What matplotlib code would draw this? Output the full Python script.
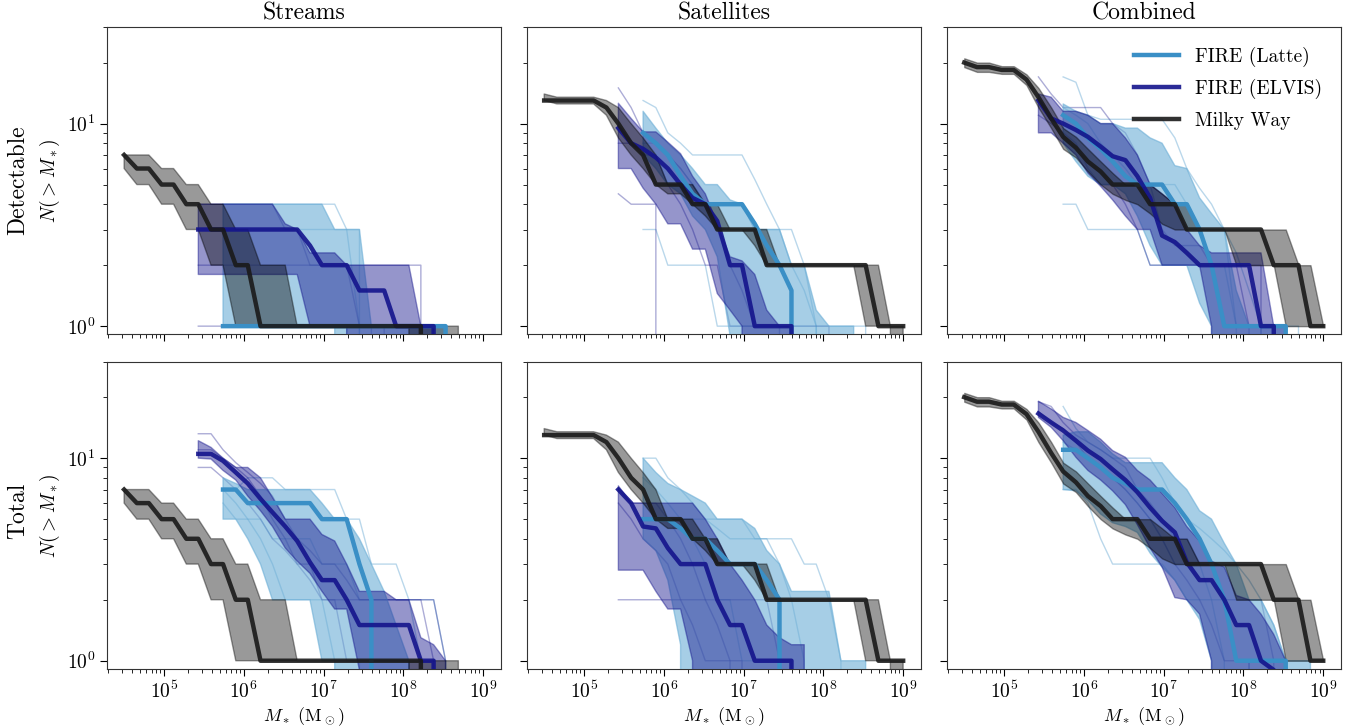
import numpy as np
import matplotlib
matplotlib.use("Agg")
import matplotlib.pyplot as plt
from matplotlib.ticker import NullFormatter, LogLocator

plt.rcParams['font.family'] = 'serif'
plt.rcParams['font.serif'] = ['cmr10']
plt.rcParams['mathtext.fontset'] = 'cm'
plt.rcParams['axes.unicode_minus'] = False
plt.rcParams['axes.formatter.use_mathtext'] = True

n = np.nan

# stellar mass grid, log10(M*/Msun)
logm = [4.50, 4.66, 4.81, 4.97, 5.12, 5.28, 5.43, 5.59, 5.74, 5.90,
        6.05, 6.21, 6.36, 6.52, 6.67, 6.83, 6.98, 7.14, 7.29, 7.45,
        7.60, 7.76, 7.91, 8.07, 8.22, 8.38, 8.53, 8.69, 8.84, 9.00]

col_titles = ['Streams', 'Satellites', 'Combined']
row_titles = ['Detectable', 'Total']

# ---- Milky Way (same in both rows)
mw_streams = [7, 6, 6, 5, 5, 4, 4, 3, 3, 2, 2] + [1]*14 + [0]*5
mw_streams_lo = [6, 5, 5, 4, 4, 3, 3, 2, 2, 1] + [1]*14 + [0]*6
mw_streams_hi = [7, 7, 7, 6, 6, 5, 5, 4, 4, 3, 3, 2, 2, 2] + [1]*14 + [0]*2

mw_sats = [13, 13, 13, 13, 13, 12, 10, 8, 7, 5, 5, 5, 4, 4, 3, 3, 3, 3,
           2, 2, 2, 2, 2, 2, 2, 2, 2, 1, 1, 1]
mw_sats_hi = [14, 13.5, 13.5, 13.5, 13.5, 13, 12, 10, 8.5, 7, 5, 5, 5, 4, 4,
              3, 3, 3, 3, 2, 2, 2, 2, 2, 2, 2, 2, 2, 1, 1]
mw_sats_lo = [13, 12.5, 12.5, 12.5, 12.5, 11, 8.5, 7, 6, 5, 4.5, 4.5, 4, 3.5,
              3, 3, 3, 2.5, 2, 2, 2, 2, 2, 2, 2, 2, 1, 1, 1, 0]

mw_comb = [20, 19, 19, 18.4, 18.4, 16.5, 13.5, 10.6, 8.6, 7.6, 6.5, 5.8, 5, 5,
           5, 4, 4, 4, 3, 3, 3, 3, 3, 3, 3, 2, 2, 2, 1, 1]
mw_comb_hi = [21, 20, 20, 19.2, 19.2, 17.5, 15, 12, 9.5, 8.6, 7.5, 6.5, 5.7, 5,
              5, 5, 4.5, 4, 4, 3, 3, 3, 3, 3, 3, 3, 3, 2, 2, 1]
mw_comb_lo = [19, 18, 18, 17.6, 17.6, 15.5, 12, 9.5, 7.5, 6.8, 5.8, 5, 4.5,
              4.2, 4, 3.6, 3.2, 3, 3, 3, 3, 3, 2, 2, 2, 2, 1, 1, 1, 1]

# ---- Streams, detectable
la_A = [n]*8 + [1]*19 + [0]*3
la_A_hi = [n]*8 + [4]*9 + [3, 3, 3] + [1]*7 + [0]*3
la_A_lo = [n]*8 + [1]*10 + [0]*12
la_A_t1 = [n]*8 + [3]*12 + [0]*10
la_A_t2 = [n]*8 + [4]*10 + [3, 1] + [0]*10
la_A_t3 = [n]*8 + [1]*11 + [0]*11
el_A = [n]*6 + [3]*9 + [2.5] + [2, 2, 2] + [1.5, 1.5, 1.5] + [1]*4 + [0]*4
el_A_hi = [n]*6 + [4]*7 + [3.2, 3] + [2.3, 2.3, 2.3] + [2]*6 + [1, 1] + [0]*4
el_A_lo = [n]*6 + [1.8]*9 + [1]*4 + [0]*11
el_A_t1 = [n]*6 + [2]*19 + [0]*5
el_A_t2 = [n]*6 + [1]*15 + [0]*9
el_A_t3 = [n]*6 + [4]*7 + [3, 3] + [2]*4 + [1]*3 + [0]*8

# ---- Satellites, detectable
la_B = [n]*8 + [9, 8, 7, 5.5, 4.5, 4, 4, 4, 4, 3.2, 2.5, 2, 1.5] + [0]*9
la_B_hi = [n]*8 + [11.5, 9.5, 8, 7, 6, 5, 5, 4.2, 4, 3, 3, 3, 2, 2, 1.2, 1, 1, 1] + [0]*4
la_B_lo = [n]*8 + [7, 6, 5, 4.5, 3.5, 3, 2.2, 0.9] + [0]*14
la_B_t1 = [n]*8 + [13, 12, 9, 8, 7, 7, 7, 7, 7, 5.3, 4, 3, 2, 1.5, 1] + [0]*7
la_B_t2 = [n]*8 + [3, 3, 2, 2, 2, 2] + [1]*13 + [0]*3
la_B_t3 = [n]*8 + [8, 8, 7, 6, 5, 4, 4, 4, 4, 3, 3, 3, 3, 2, 1] + [0]*7
el_B = [n]*6 + [9.5, 8, 7.5, 6.8, 6, 5, 4.3, 4, 3.3, 2, 2, 1, 1, 1, 1] + [0]*9
el_B_hi = [n]*6 + [12.6, 10.6, 9.1, 9.1, 8.1, 7.1, 5.5, 4.5, 3.2, 2.2, 2.1, 1.8, 1.2, 1, 1] + [0]*9
el_B_lo = [n]*6 + [6, 6, 4.8, 4, 3.2, 3.2, 2.4, 2.4, 1.45, 1.2, 1] + [0]*13
el_B_t1 = [n]*6 + [15, 12, 9, 8, 7, 6, 5, 4, 3, 2, 1.5, 1, 1, 1] + [0]*10
el_B_t2 = [n]*6 + [4.5, 4, 4, 4] + [0]*20
el_B_t3 = [n]*6 + [8, 8, 7, 7, 5, 4, 3, 2, 2] + [1]*9 + [0]*6

# ---- Combined, detectable
la_C = [n]*8 + [11, 10, 8.5, 7.5, 6.5, 5.5, 5, 5, 5, 4, 4, 3, 2] + [1]*6 + [0]*3
la_C_hi = [n]*8 + [12.5, 11.5, 11, 10, 10, 9.5, 9.5, 8.5, 8, 6.2, 6, 4.3, 3.6, 3, 1.5, 1, 1, 1, 1] + [0]*3
la_C_lo = [n]*8 + [8, 6.5, 5.5, 5, 5, 4.5, 3.5, 2.5, 2, 2, 2, 1.3, 1] + [0]*9
la_C_t1 = [n]*8 + [17, 16, 11, 10.5, 10.5, 10.5, 10.5, 10.5, 10.5, 8.5, 6, 4.8, 4, 3, 2.3, 1.5, 1] + [0]*5
la_C_t2 = [n]*8 + [4, 4, 3, 3, 3, 3, 3, 2, 2, 2, 2, 2, 2, 2, 1, 1, 1, 1, 1, 1] + [0]*2
la_C_t3 = [n]*8 + [12, 11, 10, 8, 7, 6, 5, 5, 5, 5, 4, 3, 3, 3, 1] + [0]*7
el_C = [n]*6 + [13, 10.6, 10, 9.3, 8.6, 7.7, 6.9, 6.6, 5.5, 4.3, 2.8, 2.6, 2.3] + [2]*5 + [1, 1] + [0]*4
el_C_hi = [n]*6 + [14, 13.5, 11.5, 11.5, 11, 10, 10, 8.5, 7, 5, 4.5, 4, 3, 2.5] + [2.3]*5 + [1, 1] + [0]*3
el_C_lo = [n]*6 + [9, 9, 8, 7, 5.7, 4.9, 4.2, 3.5, 3, 3, 2, 2, 2, 2, 1] + [0]*9
el_C_t1 = [n]*6 + [17, 14, 12, 12, 12, 12, 10, 9, 7, 5, 3, 2.5, 2.5, 2.5, 2, 2, 2, 1] + [0]*6
el_C_t2 = [n]*6 + [11, 10, 9, 8, 6, 5, 5, 4, 3] + [2]*10 + [0]*5

# ---- Streams, total
la_D = [n]*8 + [7, 7, 6, 6, 6, 6, 6, 6, 5, 5, 5, 3, 2] + [0]*9
la_D_hi = [n]*8 + [8, 7.5, 7, 7, 7, 7, 7, 7, 6, 5, 5, 4, 3, 2.2, 1.5, 1] + [0]*6
la_D_lo = [n]*8 + [5, 5, 4, 3, 2, 2, 2, 2, 1, 1] + [0]*12
la_D_t1 = [n]*8 + [7, 7, 8, 8, 8, 7, 7, 7, 7, 7, 5, 5, 3, 3, 3, 2, 1] + [0]*5
la_D_t2 = [n]*8 + [6, 5, 5, 5, 4, 4, 4, 4, 3, 3, 3] + [2]*7 + [1] + [0]*3
la_D_t3 = [n]*8 + [7, 6, 5, 4, 3, 2, 2, 2, 2, 1, 1, 1] + [0]*10
el_D = [n]*6 + [10.5, 10.5, 9.7, 8.5, 7.5, 6.3, 5.4, 4.6, 3.9, 3.06, 2.5, 2.5, 2] + [1.5]*5 + [1, 1] + [0]*4
el_D_hi = [n]*6 + [12.2, 11.3, 10, 9, 9, 8, 6.4, 5, 5, 5, 4.2, 3.9, 3] + [2.2, 2.2, 2.2, 2, 2] + [1.3, 1.2, 1] + [0]*3
el_D_lo = [n]*6 + [10, 9.9, 8.7, 7.8, 6.5, 5.5, 4.6, 3.6, 3.1, 2.7, 2.2, 1.8, 1.8, 0.9] + [0]*10
el_D_t1 = [n]*6 + [13.2, 13.2, 11, 9.5, 8.5, 7.5, 6.5, 5, 4, 3.5, 3, 3, 2.5] + [2]*6 + [1] + [0]*4
el_D_t2 = [n]*6 + [9, 9, 8, 7, 6, 5, 4, 3.5, 3, 2.5, 2, 2] + [1]*6 + [0]*6
el_D_t3 = [n]*6 + [11, 11, 10, 9, 8, 6.5, 5, 4, 3, 3] + [2]*10 + [1] + [0]*3

# ---- Satellites, total
la_E = [n]*8 + [5, 5, 5, 4.5, 4, 4, 3.5, 3, 3, 3, 2.5, 2] + [0]*10
la_E_hi = [n]*8 + [10, 8.5, 7.5, 7, 6.5, 6, 5, 5, 5, 4.5, 3.5, 3, 2.2, 2.2, 2.2, 2.2, 1, 1, 1] + [0]*3
la_E_lo = [n]*8 + [4, 3.5, 2.5, 1.2] + [0]*18
la_E_t1 = [n]*8 + [10, 10, 8, 7, 6, 5, 4.5, 4, 4, 4, 4, 3, 2, 1] + [0]*8
la_E_t2 = [n]*8 + [5]*9 + [4]*4 + [3, 3, 2, 1] + [0]*5
la_E_t3 = [n]*8 + [8, 7, 6, 5, 4, 3, 2, 2, 1, 1, 1, 1] + [0]*10
el_E = [n]*6 + [7, 6, 4.6, 4.5, 3.6, 3, 3, 3, 2, 1.5, 1.5, 1, 1, 1, 1] + [0]*9
el_E_hi = [n]*6 + [7.3, 6, 6, 6, 6, 6, 6, 5, 4, 3, 2.5, 2, 1.5, 1.3, 1.2, 1.2] + [0]*8
el_E_lo = [n]*6 + [2.8, 2.8, 2.8, 2.2, 1.8, 1.8, 1] + [0]*17
el_E_t1 = [n]*6 + [2]*13 + [1, 1] + [0]*9
el_E_t2 = [n]*6 + [7, 6, 6, 6, 5, 4, 3, 2, 1.5, 1, 1] + [0]*13
el_E_t3 = [n]*6 + [6, 5, 4, 3.5, 3, 2, 1.5, 1, 1, 1] + [0]*14

# ---- Combined, total
la_F = [n]*8 + [11, 11, 10, 9, 8, 7.5, 7, 7, 7, 6, 5, 4, 3, 2] + [1]*5 + [0]*3
la_F_hi = [n]*8 + [13, 13.5, 13.5, 12, 10.5, 9.5, 9.5, 9.5, 9.5, 8, 7, 5.5, 5, 3.8, 3, 2, 2, 1.5, 1, 1, 1] + [0]
la_F_lo = [n]*8 + [7, 6.9, 6.2, 5.3, 4.8, 4.6, 4.3, 3.4, 2.9, 2.5, 2, 1.6, 1] + [0]*9
la_F_t1 = [n]*8 + [18, 14, 12, 11, 10, 10, 10, 10, 8, 6, 5, 4.5, 4, 3.5, 3, 2.5, 2, 1.5, 1] + [0]*3
la_F_t2 = [n]*8 + [7, 7, 6, 4, 3, 3, 3, 3, 3, 2.5, 2, 2, 2, 2, 1, 1] + [0]*6
la_F_t3 = [n]*8 + [12, 11, 10, 9, 8, 7, 6, 5, 4, 3, 3, 3, 2, 1] + [0]*8
el_F = [n]*6 + [16.6, 15, 13.7, 12.2, 10.9, 9.9, 8.8, 7.8, 6.8, 5.7, 4.9, 4.3, 3.06, 2.5, 2.5, 2, 1.5, 1.5, 1, 0.9] + [0]*4
el_F_hi = [n]*6 + [19.1, 17.5, 15.9, 15, 13.7, 12.4, 10.9, 10.1, 8.7, 7.8, 6.7, 5.7, 4.6, 3.9, 3.1, 2.9, 2.1, 2, 1.7, 1.35, 1] + [0]*3
el_F_lo = [n]*6 + [15.9, 14.2, 12.2, 10.1, 8.7, 7.8, 6.9, 5.9, 4.7, 3.6, 2.9, 2.05, 2, 1.7, 1] + [0]*9
el_F_t1 = [n]*6 + [19, 18, 15, 13, 12, 11, 10, 9, 7, 6, 5, 4, 4, 3, 3, 2, 2, 2, 2, 1] + [0]*4
el_F_t2 = [n]*6 + [17, 15, 14, 12, 10, 9, 8, 7, 6, 5, 4, 3, 2.5, 2, 1.5, 1, 1, 1] + [0]*6

mw_sets = [(mw_streams, mw_streams_lo, mw_streams_hi),
           (mw_sats, mw_sats_lo, mw_sats_hi),
           (mw_comb, mw_comb_lo, mw_comb_hi)]

latte_sets = [[(la_A, la_A_lo, la_A_hi, [la_A_t1, la_A_t2, la_A_t3]),
               (la_B, la_B_lo, la_B_hi, [la_B_t1, la_B_t2, la_B_t3]),
               (la_C, la_C_lo, la_C_hi, [la_C_t1, la_C_t2, la_C_t3])],
              [(la_D, la_D_lo, la_D_hi, [la_D_t1, la_D_t2, la_D_t3]),
               (la_E, la_E_lo, la_E_hi, [la_E_t1, la_E_t2, la_E_t3]),
               (la_F, la_F_lo, la_F_hi, [la_F_t1, la_F_t2, la_F_t3])]]

elvis_sets = [[(el_A, el_A_lo, el_A_hi, [el_A_t1, el_A_t2, el_A_t3]),
               (el_B, el_B_lo, el_B_hi, [el_B_t1, el_B_t2, el_B_t3]),
               (el_C, el_C_lo, el_C_hi, [el_C_t1, el_C_t2])],
              [(el_D, el_D_lo, el_D_hi, [el_D_t1, el_D_t2, el_D_t3]),
               (el_E, el_E_lo, el_E_hi, [el_E_t1, el_E_t2, el_E_t3]),
               (el_F, el_F_lo, el_F_hi, [el_F_t1, el_F_t2])]]

latte_line = '#3a8fc6'
latte_fill = '#6baed6'
elvis_line = '#14148c'
elvis_fill = '#14148c'
mw_line = '#1a1a1a'

mass = 10 ** np.array(logm)


def draw_group(ax, lo, hi, thin, line_c, fill_c, fill_a):
    # thin lines for the individual hosts, then the shaded band
    for t in thin:
        ax.plot(mass, t, color=line_c, lw=1, alpha=0.35, zorder=2)
    ax.fill_between(mass, lo, hi, facecolor=fill_c, edgecolor=fill_c,
                    alpha=fill_a, lw=1, zorder=3)


fig, axes = plt.subplots(2, 3, figsize=(13.63, 7.28), dpi=100,
                         sharex=True, sharey=True)
fig.subplots_adjust(left=0.0785, right=0.984, top=0.963, bottom=0.081,
                    wspace=0.066, hspace=0.088)

for r in range(2):
    for c in range(3):
        ax = axes[r, c]
        ax.set_xscale('log')
        ax.set_yscale('log')
        la_med, la_lo, la_hi, la_thin = latte_sets[r][c]
        el_med, el_lo, el_hi, el_thin = elvis_sets[r][c]
        mw_med, mw_lo, mw_hi = mw_sets[c]

        draw_group(ax, la_lo, la_hi, la_thin, latte_line, latte_fill, 0.6)
        draw_group(ax, el_lo, el_hi, el_thin, elvis_line, elvis_fill, 0.45)
        ax.fill_between(mass, mw_lo, mw_hi, facecolor='k', edgecolor='k',
                        alpha=0.4, lw=1, zorder=4)

        ax.plot(mass, la_med, color=latte_line, lw=3.2, zorder=5, label='FIRE (Latte)')
        ax.plot(mass, el_med, color=elvis_line, lw=3.2, alpha=0.9, zorder=6,
                label='FIRE (ELVIS)')
        ax.plot(mass, mw_med, color=mw_line, lw=3.2, alpha=0.9, zorder=7,
                label='Milky Way')

        ax.set_xlim(1.93e4, 1.68e9)
        ax.set_ylim(0.91, 30)
        ax.xaxis.set_major_locator(LogLocator(base=10, numticks=12))
        ax.xaxis.set_minor_locator(LogLocator(base=10, subs=np.arange(2, 10), numticks=12))
        ax.xaxis.set_minor_formatter(NullFormatter())
        ax.yaxis.set_minor_formatter(NullFormatter())
        ax.tick_params(which='both', direction='out', top=False, right=False,
                       labelsize=14)
        ax.tick_params(which='major', length=5)
        ax.tick_params(which='minor', length=3)
        for s in ax.spines.values():
            s.set_color('#333333')

        if r == 0:
            ax.set_title(col_titles[c], fontsize=17, pad=5)
        if r == 1:
            ax.set_xlabel(r'$M_*\ (\mathrm{M}_\odot)$', fontsize=13, labelpad=2)
        if c == 0:
            ax.set_ylabel(r'$N(>M_*)$', fontsize=14, labelpad=3)

axes[0, 2].legend(loc='upper right', frameon=False, fontsize=14,
                  handlelength=2.3, borderaxespad=0.6, labelspacing=0.65)

fig.text(0.013, 0.752, row_titles[0], rotation=90, fontsize=17,
         ha='center', va='center')
fig.text(0.013, 0.298, row_titles[1], rotation=90, fontsize=17,
         ha='center', va='center')

fig.savefig('out.png', dpi=100)
